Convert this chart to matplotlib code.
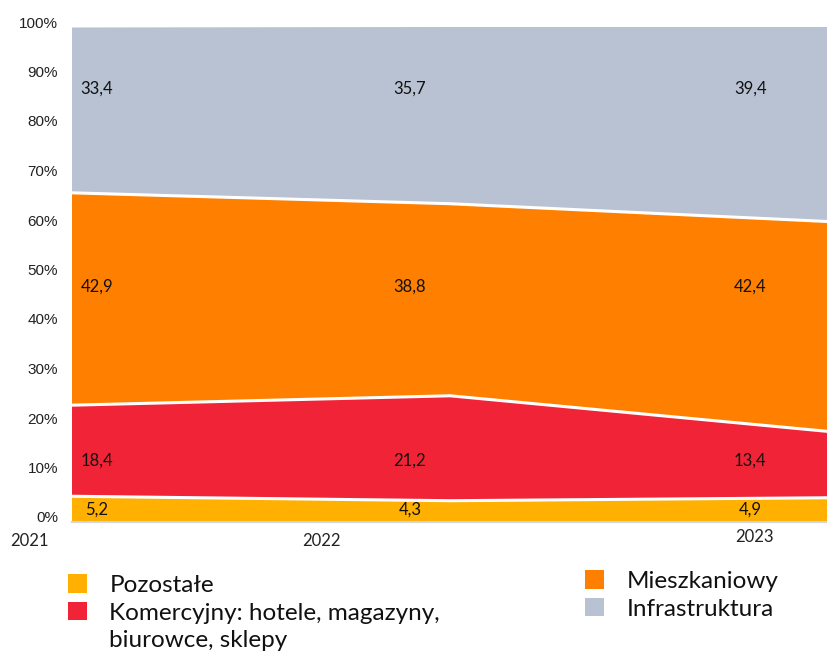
import matplotlib
matplotlib.use("Agg")
import matplotlib.pyplot as plt
import matplotlib.transforms as mtransforms
from matplotlib.patches import Patch
import numpy as np

# shares of construction output by segment, %
years = ["2021", "2022", "2023"]
pozostale = [5.2, 4.3, 4.9]
komercyjny = [18.4, 21.2, 13.4]
mieszkaniowy = [42.9, 38.8, 42.4]
infrastruktura = [33.4, 35.7, 39.4]

series = [pozostale, komercyjny, mieszkaniowy, infrastruktura]
colors = ["#FFB000", "#F02436", "#FF8000", "#B8C2D2"]

fig = plt.figure(figsize=(8.28, 6.51), dpi=100)
ax = fig.add_axes([72/828, 1-522/651, 756/828, 495/651])

x = np.arange(len(years))
bottom = np.zeros(len(years))
for i, (vals, c) in enumerate(zip(series, colors)):
    top = bottom + np.array(vals)
    ax.fill_between(x, bottom, top, facecolor=c, linewidth=0)
    if i < len(series) - 1:
        # white separator between bands
        ax.plot(x, top, color="white", linewidth=2.2, zorder=3)
    bottom = top

ax.set_xlim(0, 2)
ax.set_ylim(0, 99.85)
ax.set_yticks(np.arange(0, 101, 10))
ax.set_yticklabels([f"{v}%" for v in range(0, 101, 10)],
                   fontsize=11, family="Liberation Sans", color="#222222")
ax.tick_params(axis="y", length=0, pad=10)
ax.set_xticks([])
for s in ["top", "right", "left"]:
    ax.spines[s].set_visible(False)
ax.spines["bottom"].set_color("#d0d5de")
ax.spines["bottom"].set_linewidth(1.5)

shift = mtransforms.ScaledTranslation(0, 5/100, fig.dpi_scale_trans)
for lab in ax.get_yticklabels():
    lab.set_transform(lab.get_transform() + shift)

# year labels sit off the data points in the source chart
year_x = [-0.056, 0.33, 0.903]
year_y = [-0.038, -0.038, -0.030]
for yr, xp, yp in zip(years, year_x, year_y):
    ax.text(xp, yp, yr, transform=ax.transAxes, ha="center", va="center",
            fontsize=12, family="Lato", color="#222222")

# value labels
col_x = [0.033, 0.447, 0.897]
row_y = [2.4, 12.5, 47.5, 87.5]
trans = mtransforms.blended_transform_factory(ax.transAxes, ax.transData)
for vals, ry in zip(series, row_y):
    for v, cx in zip(vals, col_x):
        ax.text(cx, ry, f"{v:.1f}".replace(".", ","), transform=trans,
                ha="center", va="center", fontsize=12, family="Lato",
                color="#111111", zorder=4)

blank = Patch(facecolor="none", edgecolor="none")
h1 = [Patch(facecolor=colors[0]), Patch(facecolor=colors[1]), blank]
l1 = ["Pozostałe", "Komercyjny: hotele, magazyny,", "biurowce, sklepy"]
h2 = [Patch(facecolor=colors[2]), Patch(facecolor=colors[3])]
l2 = ["Mieszkaniowy", "Infrastruktura"]

kw = dict(frameon=False, loc="upper left", borderpad=0, borderaxespad=0,
          handlelength=0.8, handleheight=0.8, handletextpad=0.9,
          labelspacing=0.25, prop={"family": "Lato", "size": 17.5})
leg1 = fig.legend(h1, l1, bbox_to_anchor=(68/828, 1-574/651), **kw)
leg2 = fig.legend(h2, l2, bbox_to_anchor=(585/828, 1-570/651), **kw)
for leg in (leg1, leg2):
    for t in leg.get_texts():
        t.set_color("#111111")

fig.savefig("out.png", dpi=100)
